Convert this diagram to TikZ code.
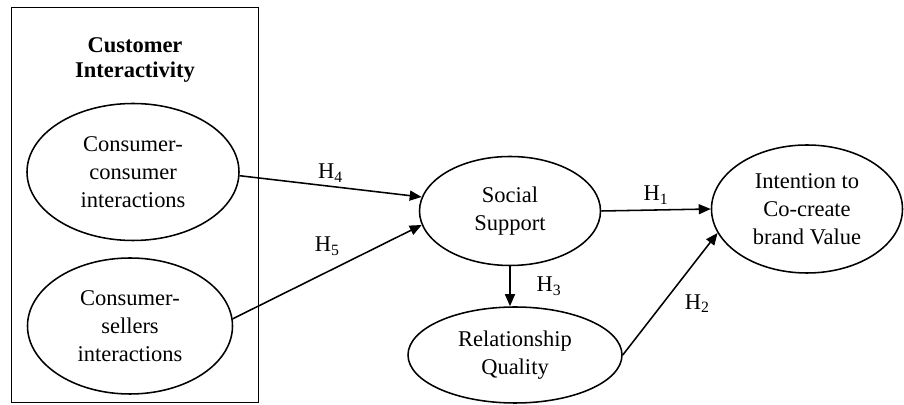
\documentclass[tikz,border=0pt]{standalone}
\usepackage{fontspec}
\setmainfont{Liberation Serif}
\usetikzlibrary{shapes.geometric,arrows.meta}
\newcommand{\px}{0.025cm}
\newcommand{\hyp}[1]{H\textsubscript{#1}}
\tikzset{
    common/.style={draw, line width=1.1pt, align=center, inner sep=0pt},
    construct/.style={common, ellipse, font=\fontsize{16}{20}\selectfont},
    hyplabel/.style={font=\fontsize{16}{19}\selectfont},
    link/.style={-{Triangle[length=3mm, width=2.5mm]}, line width=1.1pt}
}

\begin{document}
\begin{tikzpicture}[x=\px, y=-\px]
    \useasboundingbox (0,0) rectangle (904,405);

    % customer interactivity block
    \node[common, minimum width=247*\px, minimum height=395*\px] (group) at (135,205) {};
    \node[font=\fontsize{16}{18}\selectfont\bfseries, align=center] (title) at (135,60) {Customer\\Interactivity};
    \node[construct, minimum width=212*\px, minimum height=137*\px] (cc) at (133,172) {Consumer-\\consumer\\interactions};
    \node[construct, minimum width=205*\px, minimum height=136*\px] (cs) at (130,326) {Consumer-\\sellers\\interactions};

    % mediators and outcome
    \node[construct, minimum width=181*\px, minimum height=109*\px] (ss) at (510,211) {Social\\Support};
    \node[construct, minimum width=214*\px, minimum height=96*\px] (rq) at (515,355) {Relationship\\Quality};
    \node[construct, minimum width=191*\px, minimum height=128*\px] (in) at (807,209) {Intention to\\Co-create\\brand Value};

    \draw[link] (cc.-2) -- node[hyplabel, above=-1pt] {\hyp{4}} (ss.171);
    \draw[link] (cs.4) -- node[hyplabel, above=8pt] {\hyp{5}} (ss.189);
    \draw[link] (ss.east) -- node[hyplabel, above] {\hyp{1}} (in.west);
    \draw[link] (ss.south) -- node[hyplabel, right=15pt] {\hyp{3}} (ss.south |- rq.north);
    \draw[link] (rq.east) -- node[hyplabel, pos=0.42, right=12pt] {\hyp{2}} (in.195);
\end{tikzpicture}
\end{document}
